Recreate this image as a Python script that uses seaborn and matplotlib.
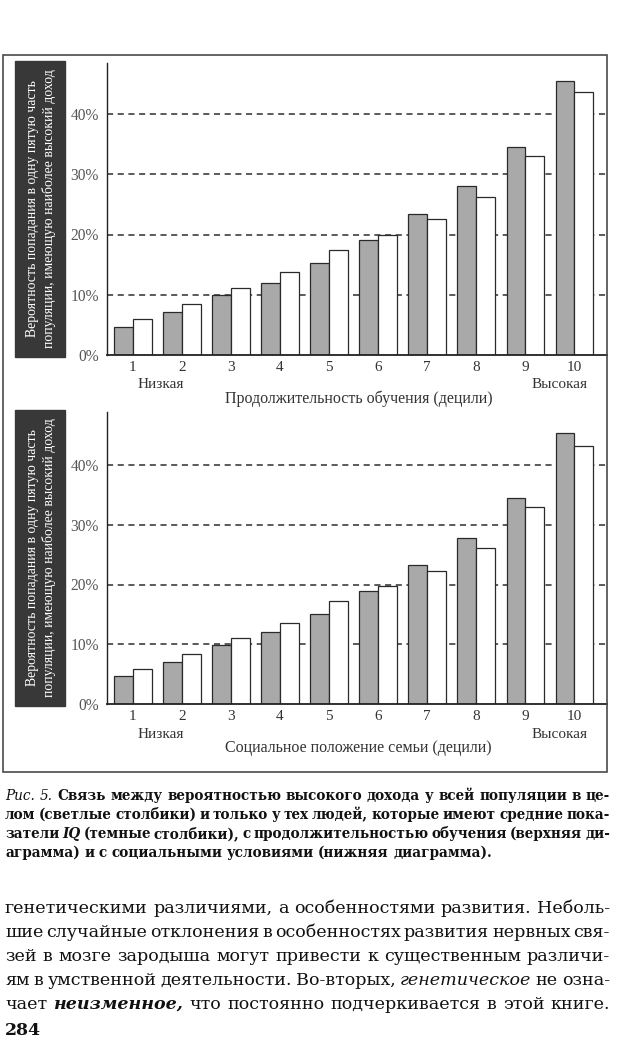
import numpy as np
import pandas as pd
import seaborn as sns
import matplotlib.pyplot as plt
from matplotlib.patches import Rectangle

W, H = 620, 1038

# data (percent)
deciles = ["1", "2", "3", "4", "5", "6", "7", "8", "9", "10"]
edu_iq = [4.6, 7.1, 9.9, 12.0, 15.2, 19.1, 23.4, 28.0, 34.5, 45.4]
edu_all = [5.9, 8.5, 11.2, 13.7, 17.5, 19.9, 22.6, 26.3, 33.0, 43.7]
ses_iq = [4.7, 7.1, 9.9, 12.0, 15.1, 18.9, 23.2, 27.8, 34.4, 45.4]
ses_all = [5.9, 8.4, 11.1, 13.6, 17.3, 19.7, 22.3, 26.1, 32.9, 43.2]
yticks = [0, 10, 20, 30, 40]

ylabel_text = "Вероятность попадания в одну пятую часть\nпопуляции, имеющую наиболее высокий доход"
x_titles = ["Продолжительность обучения (децили)", "Социальное положение семьи (децили)"]
low_label = "Низкая"
high_label = "Высокая"

caption_lines = [
    "Рис. 5. Связь между вероятностью высокого дохода у всей популяции в це-",
    "лом (светлые столбики) и только у тех людей, которые имеют средние пока-",
    "затели IQ (темные столбики), с продолжительностью обучения (верхняя ди-",
    "аграмма) и с социальными условиями (нижняя диаграмма).",
]
caption_styles = {"Рис.": "i", "5.": "i", "IQ": "bi"}
body_lines = [
    "генетическими различиями, а особенностями развития. Неболь-",
    "шие случайные отклонения в особенностях развития нервных свя-",
    "зей в мозге зародыша могут привести к существенным различи-",
    "ям в умственной деятельности. Во-вторых, генетическое не озна-",
    "чает неизменное, что постоянно подчеркивается в этой книге.",
]
body_styles = {"генетическое": "i", "неизменное,": "bi"}
page_number = "284"

sns.set_theme(style="white")
plt.rcParams["font.family"] = ["Liberation Serif", "DejaVu Serif"]

fig = plt.figure(figsize=(W / 100, H / 100), dpi=100)
fig.patch.set_facecolor("white")


def fx(px):
    return px / W


def fy(py):
    return 1 - py / H


# outer frame around both charts
fig.patches.append(Rectangle((fx(3), fy(772)), fx(607) - fx(3), (772 - 55) / H,
                             transform=fig.transFigure, fill=False, ec="#4a4a4a", lw=1.2))

# (iq, all, title, axes top px, baseline px, 40% px, box top, box bottom)
panels = [
    (edu_iq, edu_all, x_titles[0], 63, 355, 114, 61, 357),
    (ses_iq, ses_all, x_titles[1], 412, 704, 465, 410, 706),
]

for iq, allp, title, top, base, p40, btop, bbot in panels:
    ax = fig.add_axes([fx(107), fy(base), fx(607) - fx(107), (base - top) / H])
    df = pd.DataFrame({
        "decile": deciles * 2,
        "value": iq + allp,
        "group": ["IQ"] * len(iq) + ["all"] * len(allp),
    })
    sns.barplot(data=df, x="decile", y="value", hue="group",
                palette={"IQ": "#a9a9a9", "all": "white"},
                width=0.76, saturation=1, edgecolor="#2a2a2a", linewidth=0.9,
                errorbar=None, legend=False, ax=ax)

    px_per_unit = (base - p40) / 40
    ax.set_ylim(0, (base - top) / px_per_unit)
    ax.set_xlim(-0.53, 9.67)
    ax.set_facecolor("none")

    for t in yticks[1:]:
        ax.axhline(t, color="#2e2e2e", lw=1.1, ls=(0, (4, 3)), zorder=0.5)

    ax.set_yticks(yticks)
    ax.set_yticklabels([f"{t}%" for t in yticks], fontsize=11.2, color="#555555")
    ax.tick_params(axis="y", length=0, pad=6)
    ax.tick_params(axis="x", length=0, pad=4, labelsize=11, labelcolor="#333333")
    ax.set_xlabel("")
    ax.set_ylabel("")
    for s in ["top", "right"]:
        ax.spines[s].set_visible(False)
    ax.spines["left"].set_color("#222222")
    ax.spines["left"].set_linewidth(1.0)
    ax.spines["bottom"].set_color("#222222")
    ax.spines["bottom"].set_linewidth(1.3)

    hpx = base - top
    tr = ax.get_xaxis_transform()
    ax.text(0.57, -30 / hpx, low_label, transform=tr, ha="center", va="center",
            fontsize=11, color="#333333")
    ax.text(8.7, -30 / hpx, high_label, transform=tr, ha="center", va="center",
            fontsize=11, color="#333333")
    ax.text(4.6, -44 / hpx, title, transform=tr, ha="center", va="center",
            fontsize=11.5, color="#333333")

    # dark box with the rotated y label
    fig.patches.append(Rectangle((fx(15), fy(bbot)), fx(65) - fx(15), (bbot - btop) / H,
                                 transform=fig.transFigure, color="#383838"))
    fig.text(fx(41), fy((btop + bbot) / 2), ylabel_text, rotation=90, ha="center",
             va="center", color="white", fontsize=9.9, linespacing=1.3)

STYLE = {
    "r": dict(weight="normal", style="normal"),
    "b": dict(weight="bold", style="normal"),
    "i": dict(weight="normal", style="italic"),
    "bi": dict(weight="bold", style="italic"),
}
renderer = fig.canvas.get_renderer()


def put_line(line, styles, default, y, size, justify=True, x0=5, x1=610):
    words = line.split()
    texts = []
    for w in words:
        st = STYLE[styles.get(w, default)]
        texts.append(fig.text(0, fy(y), w, fontsize=size, va="baseline", ha="left",
                              family="DejaVu Serif", color="#111111", **st))
    widths = [t.get_window_extent(renderer).width for t in texts]
    if justify and len(texts) > 1:
        gap = (x1 - x0 - sum(widths)) / (len(texts) - 1)
    else:
        gap = 0.32 * size * 100 / 72
    x = x0
    for t, w in zip(texts, widths):
        t.set_x(fx(x))
        x += w + gap


cap_y = [800, 819, 838, 857]
for i, (line, y) in enumerate(zip(caption_lines, cap_y)):
    put_line(line, caption_styles, "b", y, 9.8, justify=(i < len(caption_lines) - 1))

body_y = [913, 937, 961, 985, 1009]
for line, y in zip(body_lines, body_y):
    put_line(line, body_styles, "r", y, 12.6)

fig.text(fx(5), fy(1035), page_number, fontsize=12.5, weight="bold",
         family="DejaVu Serif", color="#111111", va="baseline")

fig.savefig("out.png", dpi=100, facecolor="white")
